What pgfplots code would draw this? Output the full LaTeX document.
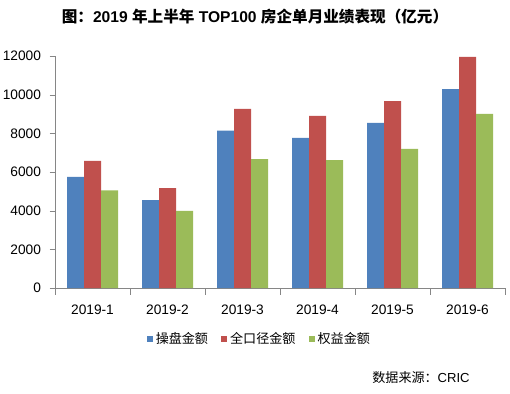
\documentclass[border=0pt]{standalone}
\usepackage{pgfplots}
\pgfplotsset{compat=1.18}
\usepackage{fontspec}
\setmainfont{Liberation Sans}
\newfontfamily\cjk{Noto Sans CJK SC}
\definecolor{cblue}{HTML}{4F81BD}
\definecolor{cred}{HTML}{C0504D}
\definecolor{cgreen}{HTML}{9BBB59}
\definecolor{axgray}{HTML}{868686}
\begin{document}
\begin{tikzpicture}
\path[use as bounding box] (0,0) rectangle (382.5pt,294.75pt);
\begin{axis}[
  at={(41.25pt,78.75pt)}, anchor=south west,
  scale only axis, width=337.5pt, height=174pt,
  ybar=0pt, bar width=12.75pt,
  xmin=-0.5, xmax=5.5, ymin=0, ymax=12000,
  enlarge x limits=false,
  axis x line*=bottom, axis y line*=left,
  axis line style={axgray},
  xtick={0,1,2,3,4,5},
  xticklabels={2019-1,2019-2,2019-3,2019-4,2019-5,2019-6},
  major x tick style={draw=none},
  minor xtick={-0.5,0.5,1.5,2.5,3.5,4.5,5.5},
  minor x tick style={axgray},
  minor tick length=5pt,
  ytick={0,2000,4000,6000,8000,10000,12000},
  y tick style={axgray},
  major tick length=4pt,
  tick align=outside,
  scaled y ticks=false,
  /pgf/number format/assume math mode=true,
  yticklabel={\pgfmathprintnumber[fixed,1000 sep={}]{\tick}},
  tick label style={font=\fontsize{10.3}{12}\selectfont},
  xticklabel style={yshift=-5pt},
  yticklabel style={xshift=-3pt},
  legend style={draw=none, at={(0.455,-0.22)}, anchor=center,
    legend columns=3, font=\cjk\fontsize{9.8}{12}\selectfont,
    /tikz/every even column/.append style={column sep=8pt},
    inner sep=0pt, legend cell align=left},
  legend image code/.code={\fill[#1,draw=none] (0pt,-2.3pt) rectangle (4.6pt,2.3pt);},
  clip=false,
]
\addplot[fill=cblue, draw=none] coordinates {(0,5750) (1,4550) (2,8140) (3,7760) (4,8540) (5,10290)};
\addplot[fill=cred, draw=none] coordinates {(0,6570) (1,5170) (2,9260) (3,8900) (4,9670) (5,11950)};
\addplot[fill=cgreen, draw=none] coordinates {(0,5050) (1,3990) (2,6670) (3,6620) (4,7190) (5,9000)};
\legend{操盘金额,全口径金额,权益金额}
\end{axis}
\node[font=\fontsize{11.7}{13}\selectfont\bfseries] at (191.25pt,282pt) {{\cjk 图：}2019 {\cjk 年上半年} TOP100 {\cjk 房企单月业绩表现（亿元）}};
\node[font=\fontsize{9.8}{12}\selectfont] at (315.75pt,11.25pt) {{\cjk 数据来源：}CRIC};
\end{tikzpicture}
\end{document}
